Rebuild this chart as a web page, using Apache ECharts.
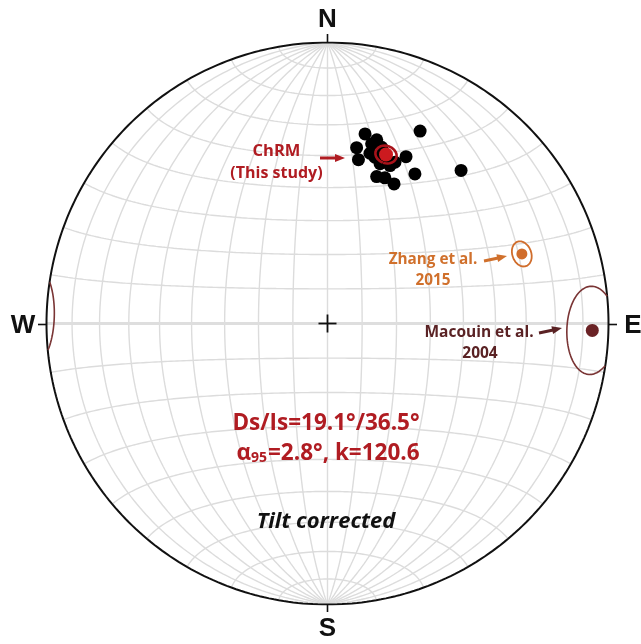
<!DOCTYPE html>
<html>
<head>
<meta charset="utf-8">
<script src="https://cdn.jsdelivr.net/npm/echarts@6/dist/echarts.min.js"></script>
<style>
  html, body { margin: 0; padding: 0; background: #fff; }
  #chart { width: 641px; height: 644px; }
</style>
</head>
<body>
<div id="chart"></div>
<script>
// Site-level ChRM directions (tilt corrected): declination / inclination in degrees
const siteDec = [25.7, 11.2, 15.0, 9.4, 14.0, 10.7, 25.2, 30.3, 41.1, 18.5, 21.5, 25.5, 13.8, 17.1, 21.6, 18.2, 15.9, 22.7];
const siteInc = [25.0, 31.8, 32.8, 36.7, 37.6, 40.4, 34.7, 38.3, 28.5, 44.1, 43.6, 44.2, 34.5, 34.7, 39.4, 39.9, 38.4, 37.8];

// Mean directions: [declination, inclination, alpha95]
const meanThisStudy = [19.1, 36.5, 2.8];
const meanZhang2015 = [70.3, 27.4, 3.2];
const meanMacouin2004 = [91.5, 6.4, 9.5];

// Cardinal labels
const cardinalLabels = ['N', 'E', 'S', 'W'];

// Net spacing (degrees)
const netStep = 10;

const RAD = Math.PI / 180;

// Unit vector (north, east, down) for a declination / inclination
function toVec(dec, inc) {
  const d = dec * RAD, i = inc * RAD;
  return [Math.cos(i) * Math.cos(d), Math.cos(i) * Math.sin(d), Math.sin(i)];
}
// Lambert equal-area projection of a lower-hemisphere vector to [x (east), y (north)]
function projVec(v) {
  const k = 1 / Math.sqrt(1 + v[2]);
  return [v[1] * k, v[0] * k];
}
function proj(dec, inc) { return projVec(toVec(dec, inc)); }

// Confidence cone around a mean direction, split into lower / upper (antipodal) pieces
function conePieces(dec, inc, a95) {
  const D = dec * RAD, I = inc * RAD, a = a95 * RAD;
  const m = toVec(dec, inc);
  const u = [-Math.sin(I) * Math.cos(D), -Math.sin(I) * Math.sin(D), Math.cos(I)];
  const w = [-Math.sin(D), Math.cos(D), 0];
  const pts = [];
  for (let t = 0; t < 360; t += 1) {
    const c = Math.cos(t * RAD), s = Math.sin(t * RAD);
    const p = [0, 1, 2].map(k => Math.cos(a) * m[k] + Math.sin(a) * (c * u[k] + s * w[k]));
    const lower = p[2] >= 0;
    pts.push({ lower, xy: projVec(lower ? p : p.map(x => -x)) });
  }
  const pieces = [];
  let cur = null;
  pts.forEach(p => {
    if (!cur || cur.lower !== p.lower) { cur = { lower: p.lower, data: [] }; pieces.push(cur); }
    cur.data.push(p.xy);
  });
  if (pieces.length > 1 && pieces[0].lower === pieces[pieces.length - 1].lower) {
    const last = pieces.pop();
    pieces[0].data = last.data.concat(pieces[0].data);
  } else if (pieces.length === 1) {
    pieces[0].data.push(pieces[0].data[0]);
  }
  return pieces.map(p => p.data);
}

// Point of the transverse net at longitude lam / latitude phi (pole toward N)
function netPoint(lam, phi) {
  const l = lam * RAD, p = phi * RAD;
  const e = Math.cos(p) * Math.sin(l), n = Math.sin(p), z = Math.cos(p) * Math.cos(l);
  const k = 1 / Math.sqrt(1 + z);
  return [e * k, n * k];
}

const series = [];
const netStyle = { color: '#dcdcdc', width: 1.4 };

// Great circles (meridians through N and S)
for (let lam = -90 + netStep; lam < 90; lam += netStep) {
  const data = [];
  for (let phi = -90; phi <= 90; phi += 1) data.push(netPoint(lam, phi));
  series.push({ type: 'line', data, showSymbol: false, silent: true, lineStyle: netStyle, z: 1 });
}
// Small circles (about the N-S axis)
for (let phi = -90 + netStep; phi < 90; phi += netStep) {
  const data = [];
  for (let lam = -90; lam <= 90; lam += 1) data.push(netPoint(lam, phi));
  series.push({
    type: 'line', data, showSymbol: false, silent: true, z: 1,
    lineStyle: phi === 0 ? { color: '#dedede', width: 3 } : netStyle
  });
}
// Primitive circle
{
  const data = [];
  for (let t = 0; t <= 360; t += 1) data.push([Math.sin(t * RAD), Math.cos(t * RAD)]);
  series.push({ type: 'line', data, showSymbol: false, silent: true, z: 3,
    lineStyle: { color: '#111', width: 2 } });
}

// Site directions
series.push({
  type: 'scatter', z: 5, symbolSize: 13,
  itemStyle: { color: '#000', opacity: 1 },
  data: siteDec.map((d, i) => proj(d, siteInc[i]))
});

// Mean directions with their cones
function addMean(mean, dotColor, dotSize, ringColor, ringWidth) {
  conePieces(mean[0], mean[1], mean[2]).forEach(data => {
    series.push({ type: 'line', data, showSymbol: false, silent: true, z: 7,
      lineStyle: { color: ringColor, width: ringWidth } });
  });
  series.push({ type: 'scatter', z: 8, symbolSize: dotSize,
    itemStyle: { color: dotColor, opacity: 1 }, data: [proj(mean[0], mean[1])] });
}
addMean(meanThisStudy, '#cc1a1f', 14, '#a8121a', 2.6);
addMean(meanZhang2015, '#d06d2c', 11, '#d06d2c', 1.8);
addMean(meanMacouin2004, '#6a2225', 13, '#7a3535', 1.6);

// Arrow annotation helper
function arrow(x0, y0, x1, y1, color) {
  const dx = x1 - x0, dy = y1 - y0, L = Math.hypot(dx, dy);
  const ux = dx / L, uy = dy / L, px = -uy, py = ux;
  const hl = 10, hw = 4;
  const bx = x1 - ux * hl, by = y1 - uy * hl;
  return [
    { type: 'line', shape: { x1: x0, y1: y0, x2: bx + ux * 1, y2: by + uy * 1 },
      style: { stroke: color, lineWidth: 3 }, z: 20 },
    { type: 'polygon', shape: { points: [[x1, y1], [bx + px * hw, by + py * hw], [bx - px * hw, by - py * hw]] },
      style: { fill: color }, z: 20 }
  ];
}

const textFamily = '"Open Sans", Lato, sans-serif';
function label(text, x, y, color, size, extra) {
  return {
    type: 'text', x, y, z: 20,
    style: Object.assign({
      text, fill: color, font: `bold ${size}px ${textFamily}`,
      align: 'center', verticalAlign: 'middle'
    }, extra || {})
  };
}

const cardFont = 'bold 26px "Liberation Sans", Arial, sans-serif';
const graphic = [
  // Cardinal ticks
  { type: 'line', shape: { x1: 327.5, y1: 34, x2: 327.5, y2: 42.5 }, style: { stroke: '#111', lineWidth: 1.6 }, z: 20 },
  { type: 'line', shape: { x1: 327.5, y1: 604.5, x2: 327.5, y2: 612 }, style: { stroke: '#111', lineWidth: 1.6 }, z: 20 },
  { type: 'line', shape: { x1: 38, y1: 324.5, x2: 46.5, y2: 324.5 }, style: { stroke: '#111', lineWidth: 1.6 }, z: 20 },
  { type: 'line', shape: { x1: 608.5, y1: 324.5, x2: 617, y2: 324.5 }, style: { stroke: '#111', lineWidth: 1.6 }, z: 20 },
  // Center cross
  { type: 'line', shape: { x1: 318.5, y1: 323.5, x2: 336.5, y2: 323.5 }, style: { stroke: '#111', lineWidth: 1.8 }, z: 20 },
  { type: 'line', shape: { x1: 327.5, y1: 314.5, x2: 327.5, y2: 332.5 }, style: { stroke: '#111', lineWidth: 1.8 }, z: 20 },
  // Cardinal labels
  { type: 'text', x: 327.5, y: 20, z: 20, style: { text: cardinalLabels[0], font: cardFont, fill: '#111', align: 'center', verticalAlign: 'middle' } },
  { type: 'text', x: 633, y: 326, z: 20, style: { text: cardinalLabels[1], font: cardFont, fill: '#111', align: 'center', verticalAlign: 'middle' } },
  { type: 'text', x: 327.5, y: 629, z: 20, style: { text: cardinalLabels[2], font: cardFont, fill: '#111', align: 'center', verticalAlign: 'middle' } },
  { type: 'text', x: 23, y: 326, z: 20, style: { text: cardinalLabels[3], font: cardFont, fill: '#111', align: 'center', verticalAlign: 'middle' } },
  // Annotations
  label('ChRM', 276.5, 151, '#b01c22', 16.5),
  label('(This study)', 276.5, 173, '#b01c22', 16),
  ...arrow(320, 158, 345, 158, '#b01c22'),
  label('Zhang et al.', 433, 260, '#d0702c', 15.3),
  label('2015', 433, 281, '#d0702c', 15.3),
  ...arrow(484, 261, 507, 256, '#d0702c'),
  label('Macouin et al.', 479, 333, '#5a2224', 15.5),
  label('2004', 480, 354, '#5a2224', 15.5),
  ...arrow(539, 333, 562, 328, '#5a2224'),
  label(`Ds/Is=${meanThisStudy[0]}°/${meanThisStudy[1]}°`, 326, 424, '#b01c22', 22.5),
  {
    type: 'text', x: 328, y: 454, z: 20,
    style: {
      text: `{a|α}{s|95}{a|=${meanThisStudy[2]}°, k=120.6}`,
      align: 'center', verticalAlign: 'middle',
      rich: {
        a: { fill: '#b01c22', font: `bold 22.5px ${textFamily}`, verticalAlign: 'bottom' },
        s: { fill: '#b01c22', font: `bold 14px ${textFamily}`, verticalAlign: 'bottom', padding: [0, 1, 0, 0] }
      }
    }
  },
  label('Tilt corrected', 326, 522, '#111', 22, { font: `italic bold 22px ${textFamily}` })
];

const chart = echarts.init(document.getElementById('chart'), null, { renderer: 'canvas' });
chart.setOption({
  animation: false,
  backgroundColor: '#fff',
  grid: { left: 46.5, top: 42.5, width: 562, height: 562 },
  xAxis: { type: 'value', min: -1, max: 1, show: false },
  yAxis: { type: 'value', min: -1, max: 1, show: false },
  series,
  graphic
});
</script>
</body>
</html>
